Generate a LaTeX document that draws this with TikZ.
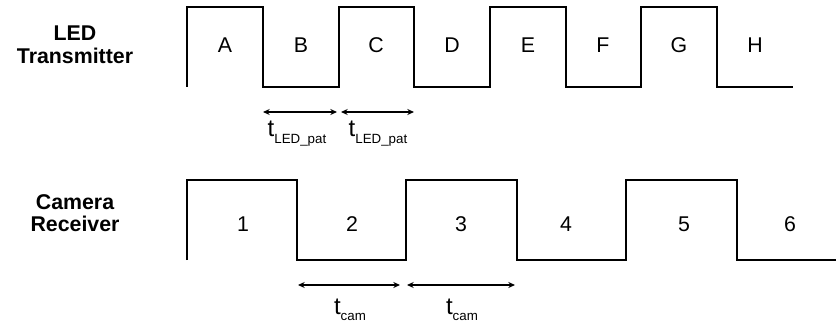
\documentclass[tikz,border=0pt]{standalone}
\usepackage{fontspec}
\setmainfont{Liberation Sans}
\usepackage{tikz}
\usetikzlibrary{arrows.meta}
\usetikzlibrary{positioning}

\begin{document}
\begin{tikzpicture}[x=0.75pt,y=0.75pt,yscale=-1,xscale=1,
  wave/.style={line width=1.2pt, line join=miter},
  span/.style={line width=1pt, {Stealth[length=5pt,width=4.5pt]}-{Stealth[length=5pt,width=4.5pt]}},
  slotlbl/.style={inner sep=0pt, font=\fontsize{16}{19}\selectfont},
  rowlbl/.style={inner sep=0pt, align=center, font=\bfseries\fontsize{16}{17}\selectfont},
  timelbl/.style={inner sep=0pt, anchor=base, font=\fontsize{18}{20}\selectfont}]
\useasboundingbox (0,0) rectangle (836,328);

% Row titles
\draw (75,45) node [rowlbl] (ledrow) {LED\\Transmitter};
\draw (75,213) node [rowlbl] (camrow) {Camera\\Receiver};

%Straight Lines [id:led wave]
\draw [wave]  (187,87) -- (187,7) -- (263,7) -- (263,87) -- (339,87) -- (339,7) -- (414,7) -- (414,87) -- (490,87) -- (490,7) -- (566,7) -- (566,87) -- (641,87) -- (641,7) -- (717,7) -- (717,87) -- (793,87) ;
%Straight Lines [id:camera wave]
\draw [wave]  (187,260) -- (187,180) -- (297,180) -- (297,260) -- (406,260) -- (406,180) -- (517,180) -- (517,260) -- (626,260) -- (626,180) -- (737,180) -- (737,260) -- (836,260) ;

% Text Node
\draw (225,45) node [slotlbl] (slotA) {A};
% Text Node
\draw (301,45) node [slotlbl] (slotB) {B};
% Text Node
\draw (376,45) node [slotlbl] (slotC) {C};
% Text Node
\draw (452,45) node [slotlbl] (slotD) {D};
% Text Node
\draw (528,45) node [slotlbl] (slotE) {E};
% Text Node
\draw (603,45) node [slotlbl] (slotF) {F};
% Text Node
\draw (679,45) node [slotlbl] (slotG) {G};
% Text Node
\draw (755,45) node [slotlbl] (slotH) {H};

% Text Node
\draw (243,224) node [slotlbl] (frame1) {1};
% Text Node
\draw (352,224) node [slotlbl] (frame2) {2};
% Text Node
\draw (461,224) node [slotlbl] (frame3) {3};
% Text Node
\draw (566,224) node [slotlbl] (frame4) {4};
% Text Node
\draw (684,224) node [slotlbl] (frame5) {5};
% Text Node
\draw (790,224) node [slotlbl] (frame6) {6};

% arrow ends
\coordinate (patL) at (263,112);
\coordinate (patM1) at (337,112);
\coordinate (patM2) at (341,112);
\coordinate (patR) at (414,112);
\coordinate (camL) at (298,285);
\coordinate (camM1) at (400,285);
\coordinate (camM2) at (407,285);
\coordinate (camR) at (515,285);

%Straight Lines [id:pattern period]
\draw [span]  (patL) -- (patM1) ;
\draw [span]  (patM2) -- (patR) ;
%Straight Lines [id:camera period]
\draw [span]  (camL) -- (camM1) ;
\draw [span]  (camM2) -- (camR) ;

% Text Node
\draw (297,137) node [timelbl] (tpat1) {t\raisebox{-0.55ex}{\fontsize{10}{12}\selectfont LED\_pat}};
% Text Node
\draw (378,137) node [timelbl] (tpat2) {t\raisebox{-0.55ex}{\fontsize{10}{12}\selectfont LED\_pat}};
% Text Node
\draw (350,314) node [timelbl] (tcam1) {t\raisebox{-0.55ex}{\fontsize{10}{12}\selectfont cam}};
% Text Node
\draw (462,314) node [timelbl] (tcam2) {t\raisebox{-0.55ex}{\fontsize{10}{12}\selectfont cam}};

\end{tikzpicture}
\end{document}
